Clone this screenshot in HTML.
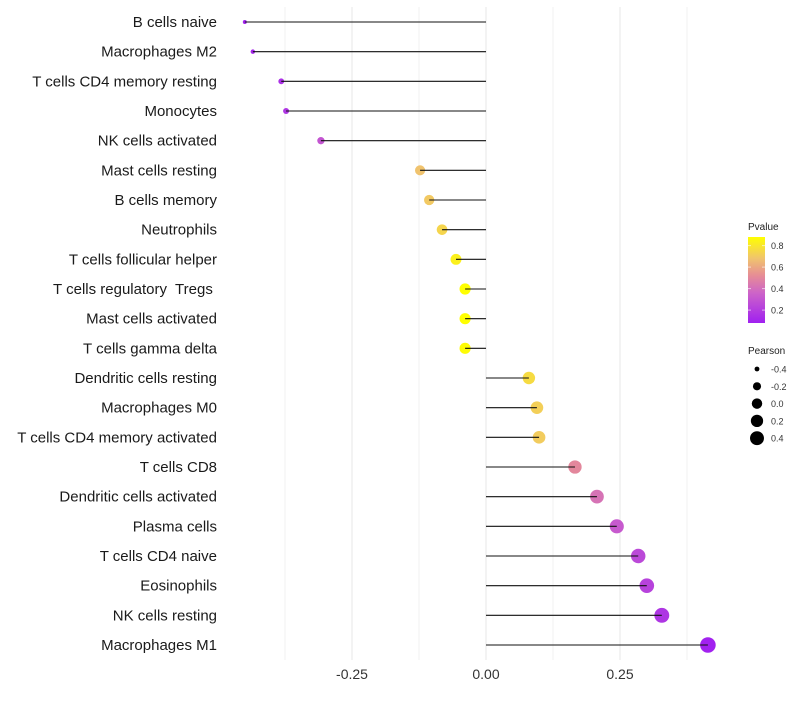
<!DOCTYPE html>
<html><head><meta charset="utf-8"><style>
body{margin:0;background:#fff;font-family:"Liberation Sans",sans-serif}
</style></head><body>
<svg id="chart" width="800" height="700" xmlns="http://www.w3.org/2000/svg"></svg>
<script>
const categories=["B cells naive","Macrophages M2","T cells CD4 memory resting","Monocytes","NK cells activated","Mast cells resting","B cells memory","Neutrophils","T cells follicular helper","T cells regulatory  Tregs ","Mast cells activated","T cells gamma delta","Dendritic cells resting","Macrophages M0","T cells CD4 memory activated","T cells CD8","Dendritic cells activated","Plasma cells","T cells CD4 naive","Eosinophils","NK cells resting","Macrophages M1"];
const pearson=[-0.45,-0.435,-0.382,-0.373,-0.308,-0.123,-0.106,-0.082,-0.056,-0.039,-0.039,-0.039,0.080,0.095,0.099,0.166,0.207,0.244,0.284,0.300,0.328,0.414];
const pvalue=[0.09,0.11,0.15,0.17,0.3,0.68,0.7,0.74,0.83,0.88,0.88,0.87,0.76,0.72,0.71,0.5,0.42,0.32,0.25,0.22,0.17,0.09];
const xTicks=[-0.25,0,0.25];
const xTickLabels=["-0.25","0.00","0.25"];
const xMinor=[-0.375,-0.125,0.125,0.375];
const pTicks=[0.2,0.4,0.6,0.8];
const sizeTicks=[-0.4,-0.2,0.0,0.2,0.4];
const sizeTickLabels=["-0.4","-0.2","0.0","0.2","0.4"];

const svg=document.getElementById('chart');
const NS="http://www.w3.org/2000/svg";
function el(t,a,p){const e=document.createElementNS(NS,t);for(const k in a)e.setAttribute(k,a[k]);(p||svg).appendChild(e);return e;}
const x=v=>486+v*536;
const y=i=>22+i*(623/21);
const pMin=0.08,pMax=0.88;
function lerp(a,b,t){return Math.round(a+(b-a)*t);}
const stops=[[0,[160,32,240]],[0.35,[205,100,200]],[0.55,[230,140,150]],[0.75,[240,195,110]],[1,[255,255,0]]];
function color(p){let t=Math.max(0,Math.min(1,(p-pMin)/(pMax-pMin)));for(let k=0;k<stops.length-1;k++){const [a,ca]=stops[k],[b,cb]=stops[k+1];if(t<=b){const u=(t-a)/(b-a);return `rgb(${lerp(ca[0],cb[0],u)},${lerp(ca[1],cb[1],u)},${lerp(ca[2],cb[2],u)})`;}}return 'rgb(255,255,0)';}
const rMin=2,rMax=7.8,vMin=-0.45,vMax=0.414;
function rad(v){const t=(v-vMin)/(vMax-vMin);return Math.sqrt(rMin*rMin+t*(rMax*rMax-rMin*rMin));}

const grid=el('g',{});


xMinor.forEach(v=>el('line',{x1:x(v),x2:x(v),y1:7,y2:660,stroke:'#f2f2f2','stroke-width':1},grid));
xTicks.forEach(v=>el('line',{x1:x(v),x2:x(v),y1:7,y2:660,stroke:'#ebebeb','stroke-width':1.2},grid));

categories.forEach((c,i)=>{
  const g=el('g',{});
  
  
  const t=el('text',{x:217,y:y(i)+5,'text-anchor':'end','font-size':15,fill:'#1a1a1a','xml:space':'preserve',style:'white-space:pre'},g);t.textContent=c;
  
  
  const pt=el('circle',{cx:x(pearson[i]),cy:y(i),r:rad(pearson[i]),fill:color(pvalue[i])},g);
  
  
  const ln=el('line',{x1:x(0),x2:x(pearson[i]),y1:y(i),y2:y(i),stroke:'#111','stroke-width':1.1},g);
  
  
});
xTicks.forEach((v,i)=>{const t=el('text',{x:x(v),y:679,'text-anchor':'middle','font-size':14,fill:'#333'});t.textContent=xTickLabels[i];
  
  });

const lg=el('g',{});


const tt=el('text',{x:748,y:230,'font-size':10,fill:'#222'},lg);tt.textContent='Pvalue';
const defs=el('defs',{});
const grad=el('linearGradient',{id:'pg',x1:0,y1:1,x2:0,y2:0},defs);
stops.forEach(s=>el('stop',{offset:s[0],'stop-color':`rgb(${s[1].join(',')})`},grad));
el('rect',{x:748,y:237,width:17,height:86,fill:'url(#pg)'},lg);
const py=p=>323-(p-pMin)/(pMax-pMin)*86;
pTicks.forEach(p=>{el('line',{x1:748,x2:751,y1:py(p),y2:py(p),stroke:'#fff','stroke-opacity':0.6},lg);el('line',{x1:762,x2:765,y1:py(p),y2:py(p),stroke:'#fff','stroke-opacity':0.6},lg);
  const t=el('text',{x:771,y:py(p)+3.5,'font-size':9,fill:'#333'},lg);t.textContent=p.toFixed(1);});
const sg=el('g',{});


const st=el('text',{x:748,y:354,'font-size':10,fill:'#222'},sg);st.textContent='Pearson';
sizeTicks.forEach((v,i)=>{const cy=369+i*17.3;el('circle',{cx:757,cy:cy,r:rad(v)*0.9,fill:'#000'},sg);
  const t=el('text',{x:771,y:cy+3.5,'font-size':9,fill:'#333'},sg);t.textContent=sizeTickLabels[i];});
</script>
</body></html>
